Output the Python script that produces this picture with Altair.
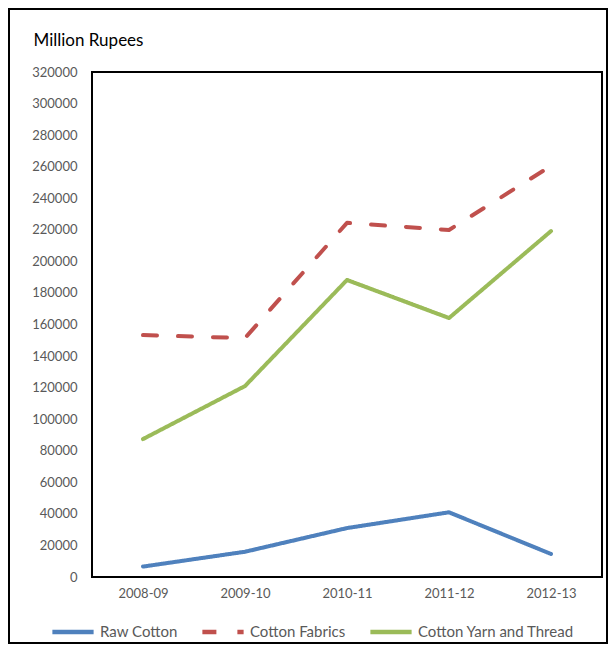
import altair as alt
import pandas as pd

years = ["2008-09", "2009-10", "2010-11", "2011-12", "2012-13"]
series_names = ["Raw Cotton", "Cotton Fabrics", "Cotton Yarn and Thread"]
raw_cotton = [6600, 16000, 31000, 41000, 14600]
cotton_fabrics = [153300, 151400, 224400, 219900, 260500]
cotton_yarn = [87400, 121000, 188200, 164100, 219200]
colors = ["#4F81BD", "#C0504D", "#9BBB59"]
dashes = [[1, 0], [14, 21], [1, 0]]
y_ticks = [0, 20000, 40000, 60000, 80000, 100000, 120000, 140000, 160000,
           180000, 200000, 220000, 240000, 260000, 280000, 300000, 320000]

FONT = "Lato"

rows = []
for name, vals in zip(series_names, [raw_cotton, cotton_fabrics, cotton_yarn]):
    for yr, v in zip(years, vals):
        rows.append({"year": yr, "series": name, "value": v})
df = pd.DataFrame(rows)

leg = alt.Legend(title=None, orient="none", legendX=-42, legendY=537, direction="horizontal")

lines = alt.Chart(df).mark_line(strokeWidth=4, strokeCap="round", strokeJoin="round").encode(
    x=alt.X("year:N", sort=years, scale=alt.Scale(domain=years),
            axis=alt.Axis(title=None, labelAngle=0, ticks=False, domain=False, labelPadding=10,
                          labelFont=FONT, labelFontSize=13, labelColor="#595959")),
    y=alt.Y("value:Q", scale=alt.Scale(domain=[0, 320000], nice=False),
            axis=alt.Axis(values=y_ticks, format="d", grid=False, ticks=False, domain=False,
                          labelPadding=15, labelFont=FONT, labelFontSize=13, labelColor="#595959",
                          title="Million Rupees", titleAngle=0, titleAlign="left",
                          titleX=-59, titleY=-32, titleBaseline="middle", titleFont=FONT,
                          titleFontSize=17, titleFontWeight="normal", titleColor="black")),
    color=alt.Color("series:N", sort=series_names,
                    scale=alt.Scale(domain=series_names, range=colors), legend=leg),
    strokeDash=alt.StrokeDash("series:N", sort=series_names,
                              scale=alt.Scale(domain=series_names, range=dashes), legend=leg),
)

frame = alt.Chart(pd.DataFrame({"a": [0]})).mark_rect(
    fillOpacity=0, stroke="black", strokeWidth=2
).encode(
    x=alt.value(-83), x2=alt.value(515), y=alt.value(-63), y2=alt.value(571)
)

chart = alt.layer(lines, frame).properties(
    width=510, height=505,
    autosize=alt.AutoSizeParams(type="none"),
    padding={"left": 84, "top": 64, "right": 6, "bottom": 67},
).configure_view(
    stroke="black", strokeWidth=2
).configure_legend(
    symbolType="stroke", symbolSize=1700, symbolStrokeWidth=4.5,
    labelFont=FONT, labelFontSize=15, labelColor="#595959",
    labelOffset=4, columnPadding=15, padding=0,
)

chart.save("out.html", embed_options={"renderer": "svg", "actions": False})
